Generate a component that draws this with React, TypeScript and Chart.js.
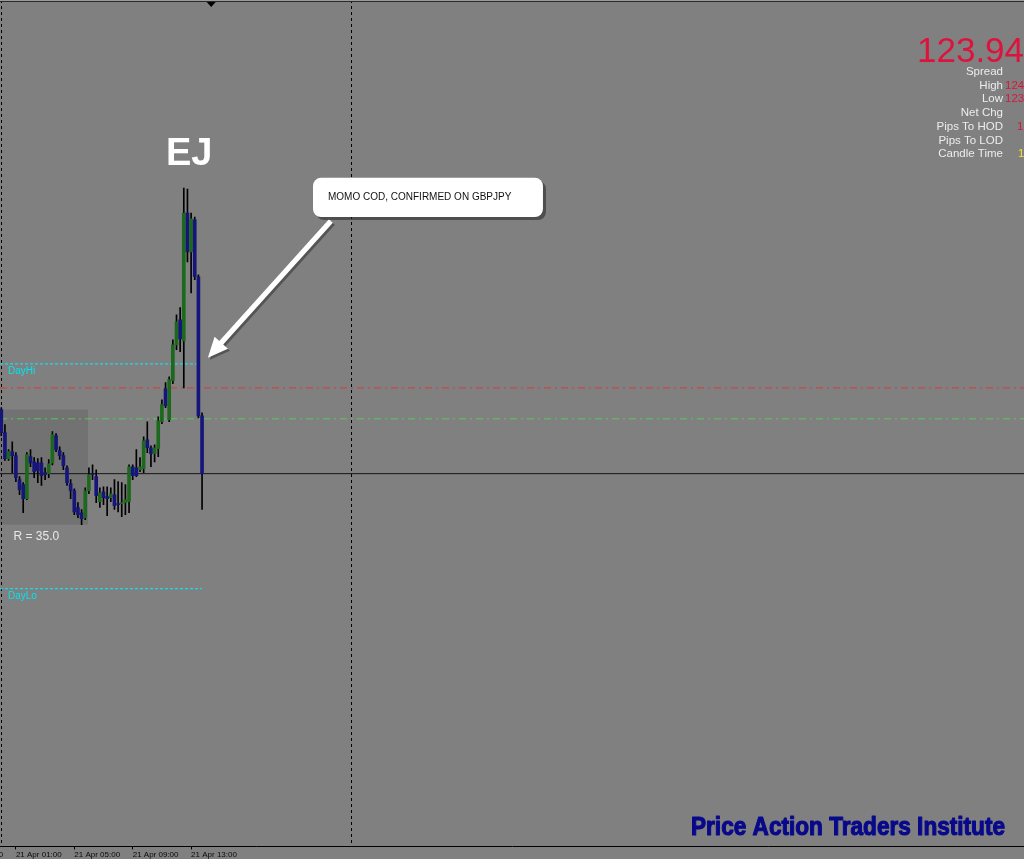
import { useEffect, useRef } from "react";
import { Chart, registerables } from "chart.js";

Chart.register(...registerables);

// ---------- data (EURJPY M15, 21 Apr) ----------
const TIMES = [
  "00:00", "00:15", "00:30", "00:45", "01:00", "01:15", "01:30", "01:45",
  "02:00", "02:15", "02:30", "02:45", "03:00", "03:15", "03:30", "03:45",
  "04:00", "04:15", "04:30", "04:45", "05:00", "05:15", "05:30", "05:45",
  "06:00", "06:15", "06:30", "06:45", "07:00", "07:15", "07:30", "07:45",
  "08:00", "08:15", "08:30", "08:45", "09:00", "09:15", "09:30", "09:45",
  "10:00", "10:15", "10:30", "10:45", "11:00", "11:15", "11:30", "11:45",
  "12:00", "12:15", "12:30", "12:45", "13:00", "13:15", "13:30", "13:45",
];
const OPEN = [
  124.135, 124.065, 123.986, 124.007, 123.995, 123.922, 123.907, 123.864,
  123.992, 123.976, 123.973, 123.973, 123.943, 123.940, 123.973, 124.056,
  124.010, 123.995, 123.958, 123.910, 123.888, 123.837, 123.821, 123.806,
  123.888, 123.940, 123.931, 123.855, 123.885, 123.870, 123.867, 123.876,
  123.849, 123.849, 123.852, 123.855, 123.961, 123.958, 123.952, 123.955,
  124.043, 124.019, 124.001, 124.016, 124.098, 124.198, 124.104, 124.223,
  124.332, 124.408, 124.344, 124.733, 124.615, 124.712, 124.539, 124.116,
];
const HIGH = [
  124.141, 124.089, 124.013, 124.037, 124.004, 123.931, 123.913, 124.004,
  124.013, 123.989, 123.986, 123.989, 123.958, 123.983, 124.068, 124.062,
  124.022, 124.004, 123.964, 123.922, 123.894, 123.852, 123.831, 123.897,
  123.958, 123.967, 123.952, 123.897, 123.900, 123.900, 123.897, 123.922,
  123.916, 123.913, 123.907, 123.967, 123.967, 124.013, 123.989, 124.052,
  124.098, 124.025, 124.028, 124.113, 124.165, 124.217, 124.235, 124.347,
  124.423, 124.445, 124.809, 124.806, 124.733, 124.721, 124.545, 124.125,
];
const LOW = [
  124.056, 123.980, 123.980, 123.943, 123.916, 123.876, 123.821, 123.861,
  123.961, 123.928, 123.913, 123.904, 123.922, 123.928, 123.967, 124.007,
  123.983, 123.952, 123.904, 123.864, 123.815, 123.806, 123.785, 123.800,
  123.879, 123.922, 123.852, 123.837, 123.846, 123.812, 123.855, 123.831,
  123.824, 123.809, 123.815, 123.821, 123.922, 123.931, 123.946, 123.943,
  124.004, 123.961, 123.976, 123.992, 124.092, 124.141, 124.098, 124.214,
  124.317, 124.311, 124.201, 124.584, 124.490, 124.530, 124.110, 123.831,
];
const CLOSE = [
  124.065, 123.986, 124.007, 123.995, 123.928, 123.891, 123.864, 123.998,
  123.973, 123.946, 123.949, 123.934, 123.937, 123.970, 124.059, 124.013,
  123.995, 123.964, 123.913, 123.888, 123.824, 123.815, 123.803, 123.888,
  123.937, 123.937, 123.873, 123.882, 123.867, 123.864, 123.879, 123.843,
  123.846, 123.852, 123.861, 123.961, 123.934, 123.934, 123.961, 124.040,
  124.019, 124.001, 124.019, 124.101, 124.150, 124.147, 124.226, 124.332,
  124.402, 124.350, 124.733, 124.615, 124.715, 124.539, 124.116, 123.940,
];

// time axis
const TICK_INDEX = [-12, 4, 20, 36, 52];
const TICK_LABELS = ["20 Apr 21:00", "21 Apr 01:00", "21 Apr 05:00", "21 Apr 09:00", "21 Apr 13:00"];
const SEPARATOR_INDEX = [0, 96];
const SHIFT_MARK_INDEX = 57.5;

// levels
const CURRENT_PRICE = 123.94;
const DAY_HI = 124.274;
const DAY_LO = 123.59;
const DAY_HI_END = 53.5;
const DAY_LO_END = 55;
const RED_LEVEL = 124.201;
const GREEN_LEVEL = 124.107;

// range box
const BOX_FROM = -0.36;
const BOX_TO = 23.75;
const BOX_HIGH = 124.135;
const BOX_LOW = 123.785;
const BOX_LABEL = "R = 35.0";

// annotations (index, price)
const TITLE = "EJ";
const TITLE_AT = [45.1, 124.879];
const NOTE = "MOMO COD, CONFIRMED ON GBPJPY";
const NOTE_BOX = [85.4, 148.4, 124.84, 124.721];
const ARROW_TAIL = [90.3, 124.709];
const ARROW_TIP = [56.6, 124.293];

// info panel
const INFO_PRICE = "123.94";
const INFO_ROWS = ["Spread", "High", "Low", "Net Chg", "Pips To HOD", "Pips To LOD", "Candle Time"];
const INFO_VALUES = ["", "124", "123", "", "1", "", "1"];
const INFO_VALUE_COLORS = ["#dc143c", "#dc143c", "#dc143c", "#dc143c", "#dc143c", "#dc143c", "#f0e030"];
const INFO_VALUE_X = [1005, 1005, 1005, 1005, 1017, 1017, 1018];
const LOGO = "Price Action Traders Institute";

// scale geometry
const X_MIN = -0.356;
const X_MAX = 280.19;
const Y_MIN = 122.806;
const Y_MAX = 125.372;

const BG = "#808080";
const FONT = '"Liberation Sans", Arial, sans-serif';

const overlay = {
  id: "overlay",
  beforeDraw(chart: any) {
    const { ctx, width, height } = chart;
    ctx.save();
    ctx.fillStyle = BG;
    ctx.fillRect(0, 0, width, height);
    ctx.restore();
  },
  beforeDatasetsDraw(chart: any) {
    const { ctx, chartArea } = chart;
    const x = chart.scales.x;
    const y = chart.scales.y;
    ctx.save();
    const bx0 = x.getPixelForValue(BOX_FROM);
    const bx1 = x.getPixelForValue(BOX_TO);
    const by0 = y.getPixelForValue(BOX_HIGH);
    const by1 = y.getPixelForValue(BOX_LOW);
    ctx.fillStyle = "#727272";
    ctx.fillRect(bx0, by0, bx1 - bx0, by1 - by0);

    ctx.strokeStyle = "#000";
    ctx.lineWidth = 1;
    ctx.setLineDash([3, 3]);
    SEPARATOR_INDEX.forEach((v) => {
      const px = Math.floor(x.getPixelForValue(v)) + 0.5;
      ctx.beginPath();
      ctx.moveTo(px, 0);
      ctx.lineTo(px, chartArea.bottom);
      ctx.stroke();
    });
    ctx.restore();
  },
  afterDatasetsDraw(chart: any) {
    const { ctx, width } = chart;
    const x = chart.scales.x;
    const y = chart.scales.y;
    ctx.save();

    // top border + chart shift marker
    ctx.fillStyle = "#9a9a9a";
    ctx.fillRect(0, 0, width, 1);
    ctx.fillStyle = "#2a2a2a";
    ctx.fillRect(0, 1, width, 1);
    const sx = x.getPixelForValue(SHIFT_MARK_INDEX);
    ctx.fillStyle = "#000";
    ctx.beginPath();
    ctx.moveTo(sx - 4.5, 2);
    ctx.lineTo(sx + 4.5, 2);
    ctx.lineTo(sx, 7);
    ctx.closePath();
    ctx.fill();

    // level labels
    ctx.font = `10px ${FONT}`;
    ctx.fillStyle = "#00e5ee";
    ctx.textAlign = "left";
    ctx.textBaseline = "alphabetic";
    ctx.fillText("DayHi", 8, y.getPixelForValue(DAY_HI) + 10.5);
    ctx.fillText("DayLo", 8, y.getPixelForValue(DAY_LO) + 10.5);

    // box label
    ctx.font = `12px ${FONT}`;
    ctx.fillStyle = "#e8e8e8";
    ctx.fillText(BOX_LABEL, x.getPixelForValue(BOX_FROM) + 13.5, y.getPixelForValue(BOX_LOW) + 15.5);

    // title
    ctx.font = `bold 38px ${FONT}`;
    ctx.fillStyle = "#ffffff";
    ctx.fillText(TITLE, x.getPixelForValue(TITLE_AT[0]), y.getPixelForValue(TITLE_AT[1]));

    // arrow
    const tx = x.getPixelForValue(ARROW_TAIL[0]);
    const ty = y.getPixelForValue(ARROW_TAIL[1]);
    const hx = x.getPixelForValue(ARROW_TIP[0]);
    const hy = y.getPixelForValue(ARROW_TIP[1]);
    const dx = hx - tx;
    const dy = hy - ty;
    const len = Math.hypot(dx, dy);
    const ux = dx / len;
    const uy = dy / len;
    const nx = -uy;
    const ny = ux;
    const headL = 20;
    const headW = 9;
    const shaftW = 2.6;
    const bx = hx - ux * headL;
    const by = hy - uy * headL;
    const arrowPath = (ox: number, oy: number) => {
      ctx.beginPath();
      ctx.moveTo(tx + nx * shaftW + ox, ty + ny * shaftW + oy);
      ctx.lineTo(bx + nx * shaftW + ox, by + ny * shaftW + oy);
      ctx.lineTo(bx + nx * headW + ox, by + ny * headW + oy);
      ctx.lineTo(hx + ox, hy + oy);
      ctx.lineTo(bx - nx * headW + ox, by - ny * headW + oy);
      ctx.lineTo(bx - nx * shaftW + ox, by - ny * shaftW + oy);
      ctx.lineTo(tx - nx * shaftW + ox, ty - ny * shaftW + oy);
      ctx.closePath();
    };
    ctx.fillStyle = "rgba(50,50,50,0.55)";
    arrowPath(2, 2);
    ctx.fill();
    ctx.fillStyle = "#ffffff";
    arrowPath(0, 0);
    ctx.fill();

    // callout
    const cx0 = x.getPixelForValue(NOTE_BOX[0]);
    const cx1 = x.getPixelForValue(NOTE_BOX[1]);
    const cy0 = y.getPixelForValue(NOTE_BOX[2]);
    const cy1 = y.getPixelForValue(NOTE_BOX[3]);
    const rr = (ox: number, oy: number) => {
      ctx.beginPath();
      (ctx as any).roundRect(cx0 + ox, cy0 + oy, cx1 - cx0, cy1 - cy0, 8);
    };
    ctx.fillStyle = "rgba(45,45,45,0.6)";
    rr(3, 3);
    ctx.fill();
    ctx.fillStyle = "#ffffff";
    rr(0, 0);
    ctx.fill();
    ctx.font = `10px ${FONT}`;
    ctx.fillStyle = "#111";
    ctx.textBaseline = "middle";
    ctx.fillText(NOTE, cx0 + 15, (cy0 + cy1) / 2);
    ctx.textBaseline = "alphabetic";

    // info panel
    ctx.font = `35px ${FONT}`;
    ctx.fillStyle = "#dc143c";
    ctx.textAlign = "left";
    ctx.fillText(INFO_PRICE, 917, 62);
    ctx.font = `11.5px ${FONT}`;
    INFO_ROWS.forEach((row, i) => {
      const base = 75 + i * 13.7;
      ctx.textAlign = "right";
      ctx.fillStyle = "#ececec";
      ctx.fillText(row, 1003, base);
      if (INFO_VALUES[i]) {
        ctx.textAlign = "left";
        ctx.fillStyle = INFO_VALUE_COLORS[i];
        ctx.fillText(INFO_VALUES[i], INFO_VALUE_X[i], base);
      }
    });

    // logo
    ctx.textAlign = "left";
    ctx.font = `bold 25px ${FONT}`;
    const lw = ctx.measureText(LOGO).width;
    ctx.translate(691, 835);
    ctx.scale(314 / lw, 1);
    ctx.fillStyle = "#08088a";
    ctx.strokeStyle = "#08088a";
    ctx.lineWidth = 1.1;
    ctx.lineJoin = "round";
    ctx.strokeText(LOGO, 0, 0);
    ctx.fillText(LOGO, 0, 0);
    ctx.restore();
  },
};

export default function App() {
  const ref = useRef<HTMLCanvasElement>(null);
  useEffect(() => {
    const canvas = ref.current;
    if (!canvas) return;
    const idx = TIMES.map((_, i) => i);
    const bodyColors = idx.map((i) => (CLOSE[i] >= OPEN[i] ? "#1c681c" : "#15157c"));
    const hline = (yv: number, x0: number, x1: number) => [
      { x: x0, y: yv },
      { x: x1, y: yv },
    ];
    const chart = new Chart(canvas, {
      type: "bar",
      data: {
        datasets: [
          {
            type: "line",
            label: "Bid",
            data: hline(CURRENT_PRICE, X_MIN, X_MAX),
            borderColor: "#151515",
            borderWidth: 1,
            pointRadius: 0,
            order: 6,
          } as any,
          {
            type: "line",
            label: "Red level",
            data: hline(RED_LEVEL, X_MIN, X_MAX),
            borderColor: "#d83a3a",
            borderWidth: 1,
            borderDash: [7, 4, 2, 4],
            pointRadius: 0,
            order: 6,
          },
          {
            type: "line",
            label: "Green level",
            data: hline(GREEN_LEVEL, X_MIN, X_MAX),
            borderColor: "#5ac85a",
            borderWidth: 1,
            borderDash: [7, 4, 2, 4],
            pointRadius: 0,
            order: 6,
          },
          {
            type: "line",
            label: "DayHi",
            data: hline(DAY_HI, X_MIN, DAY_HI_END),
            borderColor: "#00f0ff",
            borderWidth: 1,
            borderDash: [3, 2],
            pointRadius: 0,
            order: 6,
          },
          {
            type: "line",
            label: "DayLo",
            data: hline(DAY_LO, X_MIN, DAY_LO_END),
            borderColor: "#00f0ff",
            borderWidth: 1,
            borderDash: [3, 2],
            pointRadius: 0,
            order: 6,
          },
          {
            type: "bar",
            label: "Wicks",
            data: idx.map((i) => ({ x: i, y: [LOW[i], HIGH[i]] })),
            backgroundColor: "#000",
            barThickness: 1,
            grouped: false,
            order: 2,
          } as any,
          {
            type: "bar",
            label: "Bodies",
            data: idx.map((i) => ({ x: i, y: [OPEN[i], CLOSE[i]] })),
            backgroundColor: bodyColors,
            borderColor: "#0a0a0a",
            borderWidth: 0,
            barThickness: 3,
            grouped: false,
            order: 1,
          } as any,
        ],
      },
      options: {
        animation: false,
        responsive: false,
        devicePixelRatio: 1,
        layout: { padding: { top: 3, left: 0, right: 0, bottom: 0 } },
        plugins: { legend: { display: false }, tooltip: { enabled: false } },
        scales: {
          x: {
            type: "linear",
            min: X_MIN,
            max: X_MAX,
            offset: false,
            grid: {
              display: true,
              drawOnChartArea: false,
              drawTicks: true,
              tickLength: 3,
              color: "#000",
              offset: false,
            },
            border: { display: true, color: "#000" },
            afterBuildTicks: (scale: any) => {
              scale.ticks = TICK_INDEX.map((v) => ({ value: v }));
            },
            afterFit: (scale: any) => {
              scale.paddingLeft = 0;
              scale.paddingRight = 0;
            },
            ticks: {
              autoSkip: false,
              maxRotation: 0,
              minRotation: 0,
              align: "start",
              padding: 1,
              color: "#0a0a0a",
              font: { size: 8, family: "Liberation Sans" },
              callback: (v: any) => {
                const k = TICK_INDEX.indexOf(Number(v));
                return k >= 0 ? TICK_LABELS[k] : "";
              },
            },
          } as any,
          y: {
            type: "linear",
            display: false,
            min: Y_MIN,
            max: Y_MAX,
          },
        },
      },
      plugins: [overlay],
    });
    return () => chart.destroy();
  }, []);
  return (
    <div
      style={{
        position: "fixed",
        left: 0,
        top: 0,
        width: 1024,
        height: 859,
        overflow: "hidden",
        background: BG,
      }}
    >
      <canvas ref={ref} width={1024} height={861} style={{ display: "block" }} />
    </div>
  );
}
